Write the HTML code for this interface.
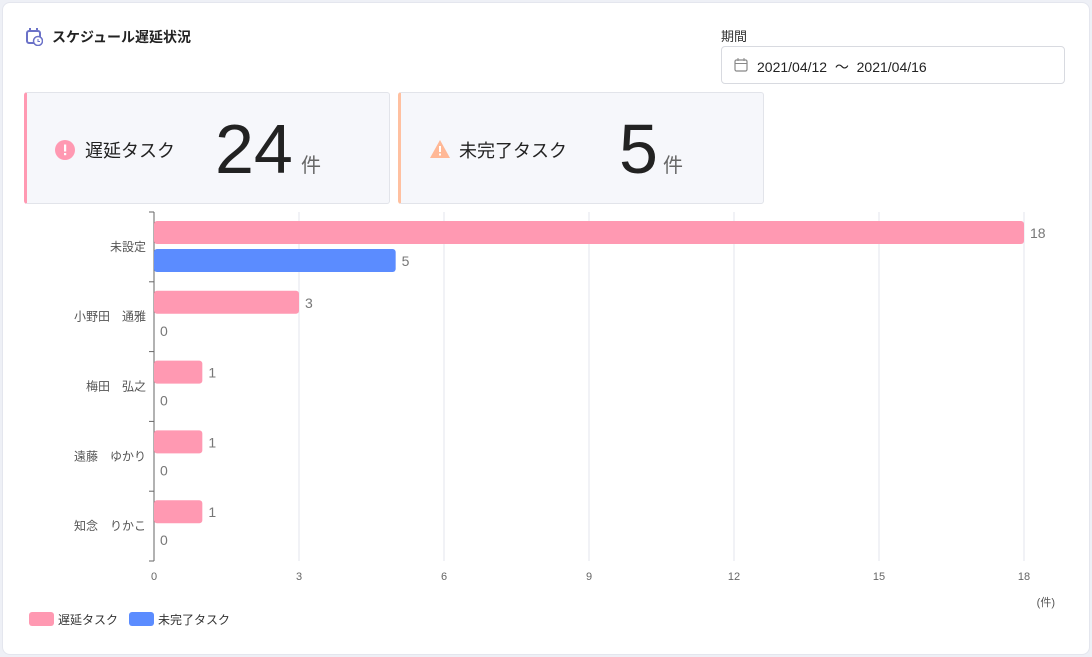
<!DOCTYPE html>
<html><head><meta charset="utf-8">
<style>
body{margin:0;width:1092px;height:657px;background:#eef0f6;font-family:"Liberation Sans","Noto Sans CJK JP",sans-serif;overflow:hidden}
.card{position:absolute;left:2px;top:2px;width:1086px;height:651px;background:#fff;border:1px solid #e4e6ee;border-radius:8px}
.title{position:absolute;left:52px;top:27px;font-size:14px;font-weight:bold;color:#222}
.kpi{position:absolute;top:92px;height:112px;background:#f6f7fb;border:1px solid #e2e4ea;border-radius:3px;box-sizing:border-box}
.kpi .lab{position:absolute;top:44px;font-size:18px;color:#222}
.kpi .num{position:absolute;top:16px;font-size:70px;color:#222;line-height:80px}
.kpi .unit{position:absolute;top:56px;font-size:20px;color:#666}
</style></head><body>
<div class="card"></div>
<svg style="position:absolute;left:26px;top:28px" width="17" height="18">
<rect x="1" y="3" width="13" height="12" rx="2" fill="none" stroke="#6b72c8" stroke-width="2"/><rect x="3" y="0" width="2" height="4" fill="#6b72c8"/><rect x="10" y="0" width="2" height="4" fill="#6b72c8"/><circle cx="12" cy="13" r="4.5" fill="#fff" stroke="#6b72c8" stroke-width="1.5"/><path d="M12 11v2.5h2" stroke="#6b72c8" fill="none"/></svg>
<div class="title">スケジュール遅延状況</div>
<div style="position:absolute;left:721px;top:26px;font-size:13px;color:#333">期間</div>
<div style="position:absolute;left:721px;top:46px;width:344px;height:38px;border:1px solid #d8dae0;border-radius:4px;box-sizing:border-box">
<svg style="position:absolute;left:12px;top:11px" width="14" height="14"><rect x="1" y="2" width="12" height="11" rx="1.5" fill="none" stroke="#888" stroke-width="1.2"/><line x1="1" y1="5.5" x2="13" y2="5.5" stroke="#888"/><line x1="4" y1="0" x2="4" y2="3" stroke="#888"/><line x1="10" y1="0" x2="10" y2="3" stroke="#888"/></svg>
<span style="position:absolute;left:35px;top:10px;font-size:14px;color:#222">2021/04/12&nbsp; 〜&nbsp; 2021/04/16</span></div>
<div class="kpi" style="left:24px;width:366px;border-left:3px solid #ff99b2">
<svg style="position:absolute;left:28px;top:47px" width="20" height="20"><circle cx="10" cy="10" r="10" fill="#ff99b2"/><rect x="9" y="4.5" width="2.2" height="7" fill="#fff"/><rect x="9" y="13" width="2.2" height="2.2" fill="#fff"/></svg>
<div class="lab" style="left:58px">遅延タスク</div><div class="num" style="left:188px">24</div><div class="unit" style="left:274px">件</div></div>
<div class="kpi" style="left:398px;width:366px;border-left:3px solid #ffc0a0">
<svg style="position:absolute;left:28px;top:46px" width="22" height="20"><path d="M11 1L21 19H1Z" fill="#ffb896"/><rect x="10" y="7" width="2" height="6" fill="#fff"/><rect x="10" y="14.5" width="2" height="2" fill="#fff"/></svg>
<div class="lab" style="left:58px">未完了タスク</div><div class="num" style="left:218px">5</div><div class="unit" style="left:262px">件</div></div>
<svg id="chart" style="position:absolute;left:0;top:0" width="1092" height="657"></svg>
<script>
const categories=["未設定","小野田　通雅","梅田　弘之","遠藤　ゆかり","知念　りかこ"];
const delayed=[18,3,1,1,1];
const incomplete=[5,0,0,0,0];
const ticks=[0,3,6,9,12,15,18];
const svg=document.getElementById('chart');const NS='http://www.w3.org/2000/svg';
const x0=154,x1=1024,yTop=212,yBot=561,maxV=18;
const X=v=>x0+(x1-x0)*v/maxV;const band=(yBot-yTop)/categories.length;
function el(t,a,txt){const e=document.createElementNS(NS,t);for(const k in a)e.setAttribute(k,a[k]);if(txt!=null)e.textContent=txt;svg.appendChild(e);return e;}
ticks.forEach(t=>{if(t>0){const g=el('line',{x1:X(t),x2:X(t),y1:yTop,y2:yBot,stroke:'#e3e5ec'});}
const l=el('text',{x:X(t),y:580,'font-size':11,fill:'#666','text-anchor':'middle'},t);});
const ax=el('line',{x1:x0,x2:x0,y1:yTop,y2:yBot,stroke:'#666'});
for(let i=0;i<=categories.length;i++){const tk=el('line',{x1:x0-5,x2:x0,y1:yTop+band*i,y2:yTop+band*i,stroke:'#666'});}
categories.forEach((c,i)=>{const y=yTop+band*i;
const l=el('text',{x:146,y:y+band/2+4,'font-size':12,fill:'#555','text-anchor':'end'},c);
[[delayed[i],'#ff99b2',9,'delayed-bar'],[incomplete[i],'#5b8cff',37,'incomplete-bar']].forEach(([v,col,off,nm])=>{
if(v>0){const r=el('rect',{x:x0,y:y+off,width:X(v)-x0,height:23,rx:3,fill:col});}
const t=el('text',{x:X(v)+6,y:y+off+17,'font-size':14,fill:'#777'},v);});});
const u=el('text',{x:1055,y:606,'font-size':11,fill:'#555','text-anchor':'end'},'(件)');
[['遅延タスク','#ff99b2',29],['未完了タスク','#5b8cff',129]].forEach(([n,c,x])=>{const r=el('rect',{x:x,y:612,width:25,height:14,rx:3,fill:c});
const t=el('text',{x:x+29,y:624,'font-size':12,fill:'#333'},n);});
</script>
</body></html>
